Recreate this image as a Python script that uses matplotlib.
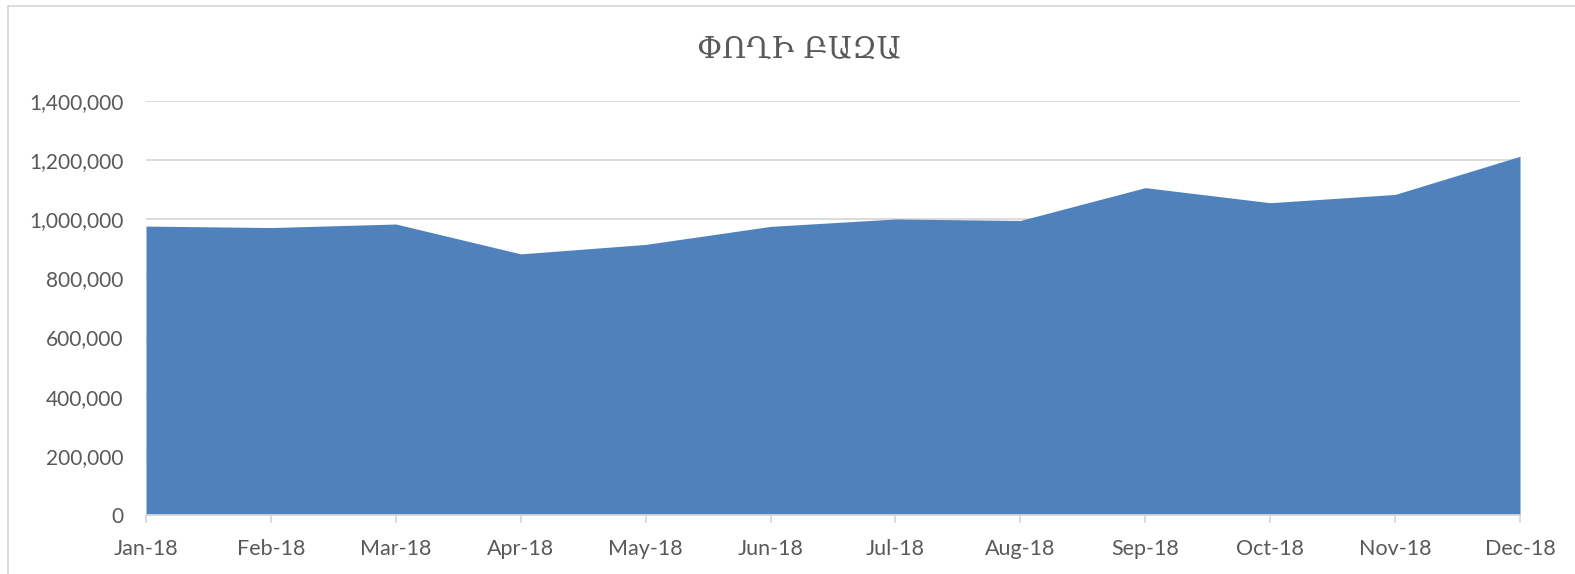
import numpy as np
import matplotlib.pyplot as plt
from matplotlib.lines import Line2D
from matplotlib.ticker import FuncFormatter

months = ['Jan-18', 'Feb-18', 'Mar-18', 'Apr-18', 'May-18', 'Jun-18',
          'Jul-18', 'Aug-18', 'Sep-18', 'Oct-18', 'Nov-18', 'Dec-18']
money_base = [977000, 972000, 984000, 883000, 915000, 976000,
              1001000, 996000, 1107000, 1056000, 1084000, 1213000]
y_ticks = [0, 200000, 400000, 600000, 800000, 1000000, 1200000, 1400000]
title = 'ՓՈՂԻ ԲԱԶԱ'

text_color = '#595959'
grid_color = '#D9D9D9'
fill_color = '#4F81BD'

plt.rcParams['font.family'] = ['Lato', 'DejaVu Sans']

fig = plt.figure(figsize=(15.75, 5.74), dpi=100)
ax = fig.add_axes([146 / 1575, 1 - 515 / 574, (1520 - 146) / 1575, (515 - 101) / 574])

x = np.arange(len(months))
ax.fill_between(x, money_base, 0, color=fill_color, linewidth=0, zorder=2)

ax.set_xlim(0, len(months) - 1)
ax.set_ylim(0, 1400000)
ax.set_yticks(y_ticks)
ax.yaxis.set_major_formatter(FuncFormatter(lambda v, p: f'{int(v):,}'))
ax.set_xticks(x)
ax.set_xticklabels(months)

ax.grid(axis='y', color=grid_color, linewidth=1.3, zorder=0)
ax.set_axisbelow(True)
for side in ['top', 'right', 'left']:
    ax.spines[side].set_visible(False)
ax.spines['bottom'].set_color(grid_color)
ax.spines['bottom'].set_linewidth(1.3)
ax.spines['bottom'].set_zorder(3)

ax.tick_params(axis='y', length=0, pad=16, labelsize=15, labelcolor=text_color)
ax.tick_params(axis='x', length=6, width=1.3, color=grid_color, pad=11,
               labelsize=15.5, labelcolor=text_color)

fig.text(799 / 1575, 1 - 50 / 574, title, ha='center', va='center', fontsize=21.5,
         color=text_color, family=['DejaVu Serif', 'DejaVu Sans'])

# chart frame
fig.add_artist(Line2D([8 / 1575, 8 / 1575], [0, 1 - 6 / 574], color=grid_color, linewidth=1.3))
fig.add_artist(Line2D([8 / 1575, 1], [1 - 6 / 574, 1 - 6 / 574], color=grid_color, linewidth=1.3))

fig.savefig('out.png', dpi=100)
